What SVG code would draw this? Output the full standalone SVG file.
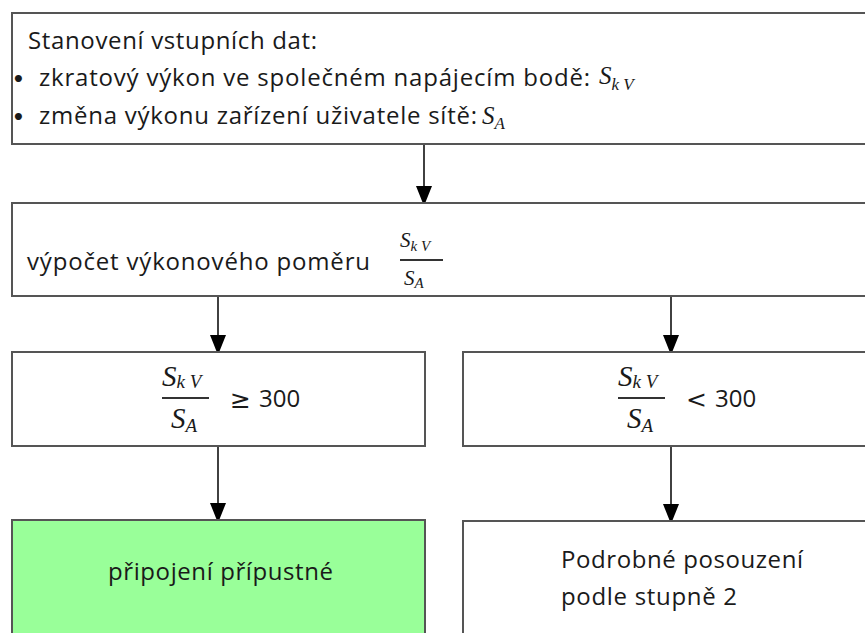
<svg xmlns="http://www.w3.org/2000/svg" width="865" height="633" viewBox="0 0 865 633">
  <style>
    .box { fill: #ffffff; stroke: #555555; stroke-width: 2; }
    .ok { fill: #99ff99; }
    .t { font-family: "Open Sans", "Noto Sans", sans-serif; font-size: 24px; fill: #1a1a1a; }
    .dot { font-family: "DejaVu Sans", sans-serif; font-size: 20px; font-weight: bold; fill: #1a1a1a; }
    .m { font-family: "Liberation Serif", "DejaVu Serif", serif; font-style: italic; fill: #1a1a1a; }
    .r { font-family: "DejaVu Sans", "Liberation Sans", sans-serif; fill: #1a1a1a; }
    .edge { stroke: #111111; stroke-width: 1.6; fill: none; marker-end: url(#arrow); }
    .bar { stroke: #333333; stroke-width: 2; }
  </style>
  <defs>
    <marker id="arrow" viewBox="0 0 16 20" refX="16" refY="8" markerWidth="16" markerHeight="20" markerUnits="userSpaceOnUse" orient="auto">
      <path d="M0,0 L20,8 L0,16 Z" fill="#000000"/>
    </marker>
  </defs>

  <rect width="865" height="633" fill="#ffffff"/>

  <!-- input data -->
  <g id="input">
    <rect class="box" x="12" y="13" width="870" height="131"/>
    <text class="t" x="28" y="49" textLength="289" lengthAdjust="spacing">Stanovení vstupních dat:</text>
    <text class="dot" x="12" y="86">•</text>
    <text class="t" x="39" y="86" textLength="551" lengthAdjust="spacing">zkratový výkon ve společném napájecím bodě:</text>
    <text class="m" x="599" y="84" font-size="25">S<tspan font-size="17" dy="6">k V</tspan></text>
    <text class="dot" x="12" y="124">•</text>
    <text class="t" x="39" y="124" textLength="438" lengthAdjust="spacing">změna výkonu zařízení uživatele sítě:</text>
    <text class="m" x="482" y="124" font-size="25">S<tspan font-size="17" dy="5">A</tspan></text>
  </g>

  <!-- power ratio -->
  <g id="ratio">
    <rect class="box" x="12" y="203" width="870" height="93"/>
    <text class="t" x="27" y="270" textLength="343" lengthAdjust="spacing">výpočet výkonového poměru</text>
    <text class="m" x="400" y="247" font-size="21">S<tspan font-size="15" dy="4">k V</tspan></text>
    <line class="bar" x1="400" y1="260" x2="443" y2="260" stroke-width="1.5"/>
    <text class="m" x="404" y="285" font-size="21">S<tspan font-size="15" dy="3">A</tspan></text>
  </g>

  <!-- ratio at least 300 -->
  <g id="high">
    <rect class="box" x="12" y="352" width="413" height="94"/>
    <text class="m" x="162" y="386" font-size="29">S<tspan font-size="19" dy="2">k V</tspan></text>
    <line class="bar" x1="162" y1="398" x2="209" y2="398"/>
    <text class="m" x="171" y="428" font-size="29">S<tspan font-size="19" dy="4">A</tspan></text>
    <text class="r" x="230" y="408" font-size="25">≥</text>
    <text class="t" x="259" y="407" font-size="25">300</text>
  </g>

  <!-- ratio below 300 -->
  <g id="low">
    <rect class="box" x="463" y="352" width="420" height="94"/>
    <text class="m" x="618" y="386" font-size="29">S<tspan font-size="19" dy="2">k V</tspan></text>
    <line class="bar" x1="618" y1="398" x2="665" y2="398"/>
    <text class="m" x="627" y="428" font-size="29">S<tspan font-size="19" dy="4">A</tspan></text>
    <text class="r" x="686" y="408" font-size="25">&lt;</text>
    <text class="t" x="715" y="407" font-size="25">300</text>
  </g>

  <!-- connection allowed -->
  <g id="allowed">
    <rect class="box ok" x="12" y="520" width="413" height="130"/>
    <text class="t" x="108" y="580" textLength="225" lengthAdjust="spacing">připojení přípustné</text>
  </g>

  <!-- detailed assessment -->
  <g id="detailed">
    <rect class="box" x="463" y="521" width="420" height="130"/>
    <text class="t" x="561" y="568" textLength="242" lengthAdjust="spacing">Podrobné posouzení</text>
    <text class="t" x="561" y="605" textLength="176" lengthAdjust="spacing">podle stupně 2</text>
  </g>

  <!-- connectors -->
  <g id="connectors">
    <line class="edge" x1="424" y1="145" x2="424" y2="202"/>
    <line class="edge" x1="218" y1="297" x2="218" y2="351"/>
    <line class="edge" x1="671" y1="297" x2="671" y2="351"/>
    <line class="edge" x1="218" y1="447" x2="218" y2="519"/>
    <line class="edge" x1="671" y1="447" x2="671" y2="520"/>
  </g>
</svg>
